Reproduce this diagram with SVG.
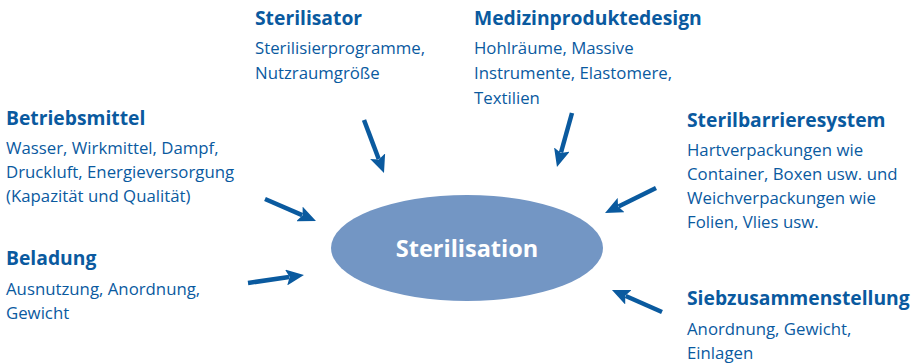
<svg xmlns="http://www.w3.org/2000/svg" width="922" height="364" viewBox="0 0 922 364">
<defs>
<marker id="ah" markerUnits="userSpaceOnUse" viewBox="0 0 18 16" markerWidth="18" markerHeight="16" refX="3" refY="8" orient="auto">
<path d="M0,0 L18,8 L0,16 L3.5,8 Z" fill="#0a5a9f"/>
</marker>
<style>
.t{font-family:"Open Sans","Noto Sans",sans-serif;font-weight:bold;font-size:19.3px;fill:#0a5a9f}
.b{font-family:"Open Sans","Noto Sans",sans-serif;font-size:16.8px;fill:#0a5a9f}
.c{font-family:"Open Sans","Noto Sans",sans-serif;font-weight:bold;font-size:23.5px;fill:#ffffff}
.a{stroke:#0a5a9f;stroke-width:4.5;fill:none;marker-end:url(#ah)}
</style>
</defs>
<g id="center">
<ellipse cx="467" cy="248" rx="136" ry="53" fill="#7396c4"/>
<text class="c" x="467" y="257" text-anchor="middle">Sterilisation</text>
</g>
<g id="sterilisator">
<text class="t" x="255" y="25">Sterilisator</text>
<text class="b" x="255" y="54">Sterilisierprogramme,</text>
<text class="b" x="255" y="79">Nutzraumgröße</text>
</g>
<g id="medizinproduktedesign">
<text class="t" x="474" y="25">Medizinproduktedesign</text>
<text class="b" x="474" y="54">Hohlräume, Massive</text>
<text class="b" x="474" y="79">Instrumente, Elastomere,</text>
<text class="b" x="474" y="104">Textilien</text>
</g>
<g id="betriebsmittel">
<text class="t" x="6" y="125">Betriebsmittel</text>
<text class="b" x="6" y="154">Wasser, Wirkmittel, Dampf,</text>
<text class="b" x="6" y="178">Druckluft, Energieversorgung</text>
<text class="b" x="6" y="202">(Kapazität und Qualität)</text>
</g>
<g id="beladung">
<text class="t" x="6" y="265">Beladung</text>
<text class="b" x="6" y="295">Ausnutzung, Anordnung,</text>
<text class="b" x="6" y="319">Gewicht</text>
</g>
<g id="sterilbarrieresystem">
<text class="t" x="687" y="127">Sterilbarrieresystem</text>
<text class="b" x="687" y="156">Hartverpackungen wie</text>
<text class="b" x="687" y="180">Container, Boxen usw. und</text>
<text class="b" x="687" y="204">Weichverpackungen wie</text>
<text class="b" x="687" y="228">Folien, Vlies usw.</text>
</g>
<g id="siebzusammenstellung">
<text class="t" x="687" y="305">Siebzusammenstellung</text>
<text class="b" x="687" y="335">Anordnung, Gewicht,</text>
<text class="b" x="687" y="359">Einlagen</text>
</g>
<g id="connectors">
<line class="a" x1="364" y1="120" x2="378.7" y2="159"/>
<line class="a" x1="572" y1="113" x2="561" y2="152.5"/>
<line class="a" x1="265" y1="199" x2="302.2" y2="215.1"/>
<line class="a" x1="248" y1="283" x2="289.1" y2="277.1"/>
<line class="a" x1="656" y1="188" x2="618.5" y2="206.4"/>
<line class="a" x1="662" y1="312" x2="625.7" y2="296"/>
</g>
</svg>
